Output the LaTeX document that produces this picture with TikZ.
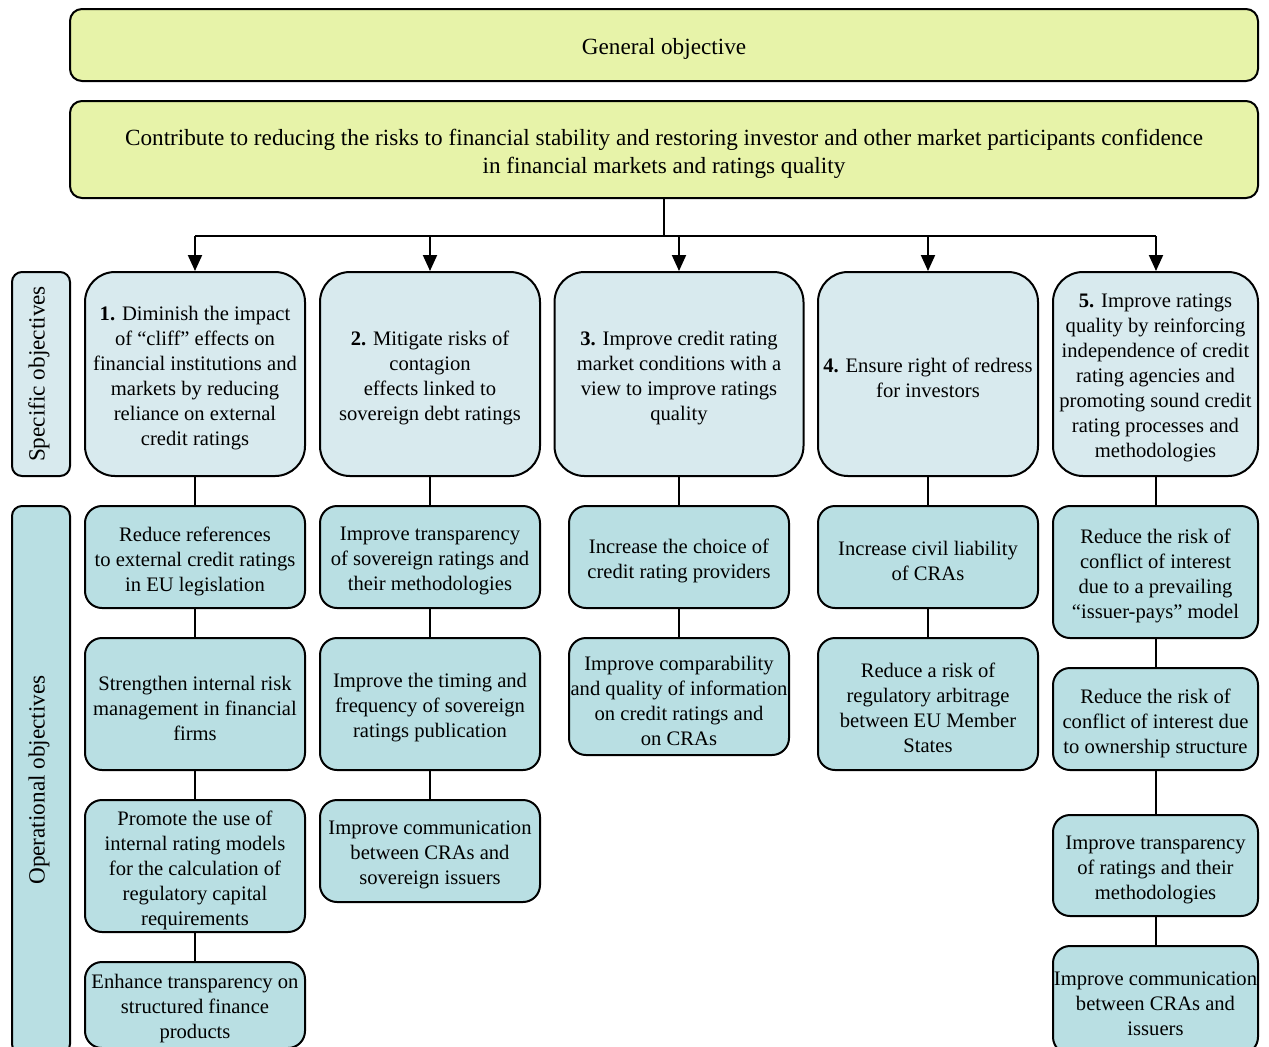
\documentclass[tikz,border=0pt]{standalone}
\usepackage{fontspec}
\setmainfont{LiberationSerif}[Extension=.ttf, UprightFont=*-Regular, BoldFont=*-Bold, ItalicFont=*-Italic, BoldItalicFont=*-BoldItalic]
\usetikzlibrary{arrows.meta}
\definecolor{yel}{HTML}{E7F3A9}
\definecolor{spc}{HTML}{D8EAEE}
\definecolor{opc}{HTML}{B9DFE3}
\tikzset{
  base/.style={draw=black, line width=1pt, inner sep=0pt},
  txt/.style={align=center, inner sep=0pt, font=\rmfamily\fontsize{10.3}{12.5}\selectfont},
  toptxt/.style={align=center, inner sep=0pt, font=\rmfamily\fontsize{11.6}{14}\selectfont},
  topbox/.style={base, fill=yel, rounded corners=6pt},
  specbox/.style={base, fill=spc, rounded corners=15pt},
  opbox/.style={base, fill=opc, rounded corners=8.5pt},
  lblspec/.style={base, fill=spc, rounded corners=5pt},
  lblop/.style={base, fill=opc, rounded corners=5pt},
  lbltext/.style={rotate=90, inner sep=0pt, font=\rmfamily\fontsize{11.6}{14}\selectfont},
  conn/.style={line width=1pt},
  arr/.style={line width=1pt, -{Triangle[width=7pt,length=8pt]}},
  sz/.style 2 args={minimum width=#1pt, minimum height=#2pt},
}
% box: style, name, x, y, w, h, text
\newcommand{\bx}[7][txt]{%
  \node[#2, sz={#5}{#6}] (#3) at (#4) {};
  \node[#1] (#3-t) at ([yshift=-2pt]#3.center) {#7};}
\begin{document}
\begin{tikzpicture}[x=1pt,y=-1pt]
\useasboundingbox (0,0) rectangle (634.5,523);
\fill[white] (0,0) rectangle (634.5,523);

\bx[toptxt]{topbox}{gen}{332,22.5}{594}{36}{General objective}
\bx[toptxt]{topbox}{con}{332,74.75}{594}{48.5}{Contribute to reducing the risks to financial stability and restoring investor and other market participants confidence\\ in financial markets and ratings quality}

% labels
\node[lblspec, sz={29}{102}] (lspec) at (20.5,187) {};
\node[lbltext] (lspect) at ([xshift=-1pt]lspec.center) {Specific objectives};
\node[lblop, sz={29}{274}] (lop) at (20.5,390) {};
\node[lbltext] (lopt) at ([xshift=-1pt]lop.center) {Operational objectives};

% specific objectives
\bx{specbox}{s1}{97.5,187}{110}{102}{\textbf{1.} Diminish the impact\\ of ``cliff" effects on\\ financial institutions and\\ markets by reducing\\ reliance on external\\ credit ratings}
\bx{specbox}{s2}{215,187}{110}{102}{\textbf{2.} Mitigate risks of\\ contagion\\ effects linked to\\ sovereign debt ratings}
\bx{specbox}{s3}{339.5,187}{124.5}{102}{\textbf{3.} Improve credit rating\\ market conditions with a\\ view to improve ratings\\ quality}
\bx{specbox}{s4}{464,187}{110}{102}{\textbf{4.} Ensure right of redress\\ for investors}
\bx{specbox}{s5}{577.75,187}{102.5}{102}{\textbf{5.} Improve ratings\\ quality by reinforcing\\ independence of credit\\ rating agencies and\\ promoting sound credit\\ rating processes and\\ methodologies}

% arrows
\coordinate (j) at (332,118);
\coordinate (jl) at (97.5,118);
\coordinate (jr) at (578,118);
\draw[conn] (con.south) -- (j);
\draw[conn] (jl) -- (jr);
\draw[arr] (jl) -- (s1.north);
\draw[arr] (s2.north |- j) -- (s2.north);
\draw[arr] (s3.north |- j) -- (s3.north);
\draw[arr] (s4.north |- j) -- (s4.north);
\draw[arr] (jr) -- (jr |- s5.north);

% column 1
\bx{opbox}{o1a}{97.5,278.5}{110}{51}{Reduce references\\ to external credit ratings\\ in EU legislation}
\bx{opbox}{o1b}{97.5,352}{110}{66}{Strengthen internal risk\\ management in financial\\ firms}
\bx{opbox}{o1c}{97.5,433}{110}{66}{Promote the use of\\ internal rating models\\ for the calculation of\\ regulatory capital\\ requirements}
\bx{opbox}{o1d}{97.5,502.5}{110}{43}{Enhance transparency on\\ structured finance\\ products}
% column 2
\bx{opbox}{o2a}{215,278.5}{110}{51}{Improve transparency\\ of sovereign ratings and\\ their methodologies}
\bx{opbox}{o2b}{215,352}{110}{66}{Improve the timing and\\ frequency of sovereign\\ ratings publication}
\bx{opbox}{o2c}{215,425.5}{110}{51}{Improve communication\\ between CRAs and\\ sovereign issuers}
% column 3
\bx{opbox}{o3a}{339.5,278.5}{110}{51}{Increase the choice of\\ credit rating providers}
\bx{opbox}{o3b}{339.5,348.25}{110}{58.5}{Improve comparability\\ and quality of information\\ on credit ratings and\\ on CRAs}
% column 4
\bx{opbox}{o4a}{464,278.5}{110}{51}{Increase civil liability\\ of CRAs}
\bx{opbox}{o4b}{464,352}{110}{66}{Reduce a risk of\\ regulatory arbitrage\\ between EU Member\\ States}
% column 5
\bx{opbox}{o5a}{577.75,286}{102.5}{66}{Reduce the risk of\\ conflict of interest\\ due to a prevailing\\ ``issuer-pays'' model}
\bx{opbox}{o5b}{577.75,359.5}{102.5}{51}{Reduce the risk of\\ conflict of interest due\\ to ownership structure}
\bx{opbox}{o5c}{577.75,432.75}{102.5}{50.5}{Improve transparency\\ of ratings and their\\ methodologies}
\bx{opbox}{o5d}{577.75,500}{102.5}{54}{Improve communication\\ between CRAs and\\ issuers}

% connectors
\foreach \a/\b in {s1/o1a,o1a/o1b,o1b/o1c,o1c/o1d,s2/o2a,o2a/o2b,o2b/o2c,s3/o3a,o3a/o3b,s4/o4a,o4a/o4b,s5/o5a,o5a/o5b,o5b/o5c,o5c/o5d}
  \draw[conn] (\a.south) -- (\b.north);
\end{tikzpicture}
\end{document}
